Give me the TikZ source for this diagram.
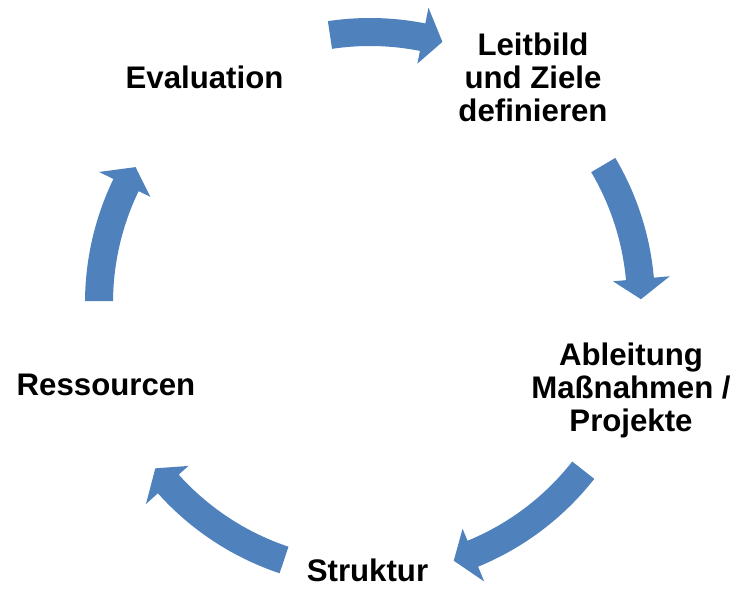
\documentclass[tikz,border=0pt]{standalone}
\usepackage{fontspec}
\setmainfont{Liberation Sans}
\usepackage{tikz}
\definecolor{zyklus}{RGB}{79,129,189}
\usetikzlibrary{calc}

\tikzset{
  schritt/.style={font=\bfseries\fontsize{31.2}{33.3}\selectfont, inner sep=0pt, align=center},
  pfeil/.style={fill=zyklus, draw=none}
}

\begin{document}
\begin{tikzpicture}[x=1pt, y=1pt]
    \useasboundingbox (0,0) rectangle (737,592);
    % Mittelpunkt des Kreislaufs
    \coordinate (M) at (370,289);
    % Pfeile: Ende-Winkel / Spitze-Winkel
    \foreach \t/\p [evaluate=\p as \h using \p+4.3] in
        {98.5/74.5, 30.6/0.8, -38.1/-72, 251.5/217.6, 179.6/149.9}
        \fill[pfeil] ($(M)+(\t:285)$) arc[start angle=\t, end angle=\h, radius=285]
            -- ($(M)+(\h:301)$) -- ($(M)+(\p:271)$) -- ($(M)+(\h:244)$)
            -- ($(M)+(\h:257)$) arc[start angle=\h, end angle=\t, radius=257] -- cycle;
    % Schritte
    \node[schritt, anchor=north] (leitbild) at (533,559.5) {Leitbild\\und Ziele\\definieren};
    \node[schritt, anchor=north] (ableitung) at (631,249.5) {Ableitung\\Maßnahmen /\\Projekte};
    \node[schritt, anchor=base] (struktur) at (367.5,10) {Struktur};
    \node[schritt, anchor=base] (ressourcen) at (106,196) {Ressourcen};
    \node[schritt, anchor=base] (evaluation) at (204.5,503) {Evaluation};
\end{tikzpicture}
\end{document}
